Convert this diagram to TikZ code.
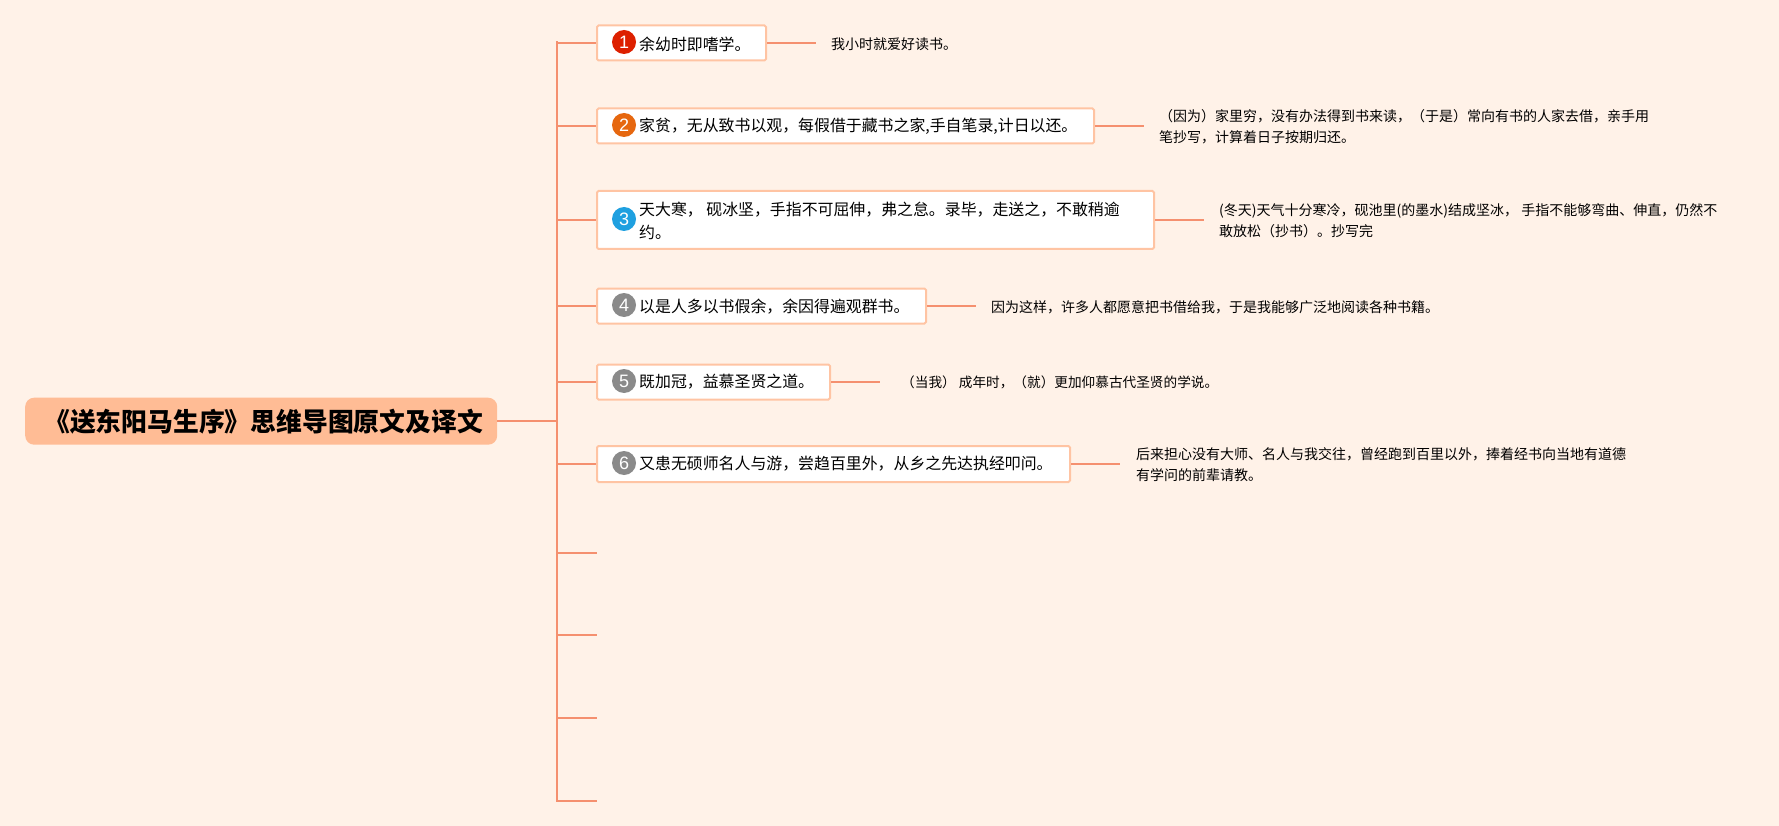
\documentclass[tikz,border=0pt]{standalone}
\usepackage{fontspec}
\setmainfont{Noto Sans CJK SC}
\setsansfont{Liberation Sans}
\definecolor{bgc}{HTML}{FFF2E8}
\definecolor{linec}{HTML}{F5906F}
\definecolor{boxc}{HTML}{FFC4A3}
\definecolor{rootc}{HTML}{FFBC95}
\definecolor{redc}{HTML}{DD2000}
\definecolor{orangec}{HTML}{E6670F}
\definecolor{bluec}{HTML}{1FA0E0}
\definecolor{greyc}{HTML}{8A8A8A}
\tikzset{
  x=1pt,y=-1pt,
  branch/.style={draw=linec,line width=2.4pt},
  rootbox/.style={draw=none,fill=rootc,rounded corners=9pt,inner sep=0pt,anchor=north west},
  itembox/.style={draw=boxc,line width=2pt,fill=white,rounded corners=1.5pt,inner sep=0pt,anchor=north west},
  badge/.style={circle,minimum size=24pt,inner sep=0pt,text=white,font=\sffamily\fontsize{18}{18}\selectfont},
  roottext/.style={anchor=east,inner sep=0pt,font=\bfseries\fontsize{25.8}{30}\selectfont,text=black},
  itemtext/.style={anchor=west,inner sep=0pt,align=left,font=\fontsize{15.9}{23}\selectfont,text=black},
  notetext/.style={anchor=west,inner sep=0pt,align=left,font=\fontsize{14}{20.8}\selectfont,text=black},
}
\begin{document}
\begin{tikzpicture}
\path[use as bounding box,fill=bgc] (0,0) rectangle (1779,826);
% root
\node[rootbox,minimum width=472pt,minimum height=47pt] (root) at (25,397.5) {};
\node[roottext] (roott) at (483,422) {《送东阳马生序》思维导图原文及译文};
% trunk
\coordinate (ttop) at (557,42);
\coordinate (tbot) at (557,801);
% boxes
\node[itembox,minimum width=169pt,minimum height=35pt] (b1) at (596,24.5) {};
\node[itembox,minimum width=497pt,minimum height=35pt] (b2) at (596,107.5) {};
\node[itembox,minimum width=557pt,minimum height=58pt] (b3) at (596,190) {};
\node[itembox,minimum width=329pt,minimum height=35pt] (b4) at (596,287.5) {};
\node[itembox,minimum width=233pt,minimum height=35pt] (b5) at (596,363.5) {};
\node[itembox,minimum width=473pt,minimum height=36pt] (b6) at (596,445) {};
% badges
\node[badge,fill=redc] (c1) at (624,42) {1};
\node[badge,fill=orangec] (c2) at (624,125) {2};
\node[badge,fill=bluec] (c3) at (624,219) {3};
\node[badge,fill=greyc] (c4) at (624,305) {4};
\node[badge,fill=greyc] (c5) at (624,381) {5};
\node[badge,fill=greyc] (c6) at (624,463) {6};
% item texts
\node[itemtext] (t1) at (639,44) {余幼时即嗜学。};
\node[itemtext] (t2) at (639,126) {家贫，无从致书以观，每假借于藏书之家,手自笔录,计日以还。};
\node[itemtext] (t3) at (639,221) {天大寒， 砚冰坚，手指不可屈伸，弗之怠。录毕，走送之，不敢稍逾\\约。};
\node[itemtext] (t4) at (639,307) {以是人多以书假余，余因得遍观群书。};
\node[itemtext] (t5) at (639,382) {既加冠，益慕圣贤之道。};
\node[itemtext] (t6) at (639,463.5) {又患无硕师名人与游，尝趋百里外，从乡之先达执经叩问。};
% note ends
\coordinate (e1) at (816,42);
\coordinate (e2) at (1144,125);
\coordinate (e3) at (1204,219);
\coordinate (e4) at (976,305);
\coordinate (e5) at (880,381);
\coordinate (e6) at (1120,463);
% notes
\node[notetext] (n1) at (831,44) {我小时就爱好读书。};
\node[notetext] (n2) at (1159,127) {（因为）家里穷，没有办法得到书来读，（于是）常向有书的人家去借，亲手用\\笔抄写，计算着日子按期归还。};
\node[notetext] (n3) at (1219,221) {(冬天)天气十分寒冷，砚池里(的墨水)结成坚冰， 手指不能够弯曲、伸直，仍然不\\敢放松（抄书）。抄写完};
\node[notetext] (n4) at (991,307) {因为这样，许多人都愿意把书借给我，于是我能够广泛地阅读各种书籍。};
\node[notetext,font=\fontsize{13.65}{20.8}\selectfont] (n5) at (901,382) {（当我） 成年时，（就）更加仰慕古代圣贤的学说。};
\node[notetext] (n6) at (1136,464.5) {后来担心没有大师、名人与我交往，曾经跑到百里以外，捧着经书向当地有道德\\有学问的前辈请教。};
% empty branches
\coordinate (x7) at (597,553);
\coordinate (x8) at (597,635);
\coordinate (x9) at (597,718);
\coordinate (x10) at (597,801);
% connectors
\draw[branch,line cap=rect] (ttop) -- (tbot);
\draw[branch] (root.east) -- (root.east -| ttop);
\foreach \b in {b1,b2,b3,b4,b5,b6}{
  \draw[branch] (\b.west -| ttop) -- (\b.west);
}
\draw[branch] (b1.east) -- (b1.east -| e1);
\draw[branch] (b2.east) -- (b2.east -| e2);
\draw[branch] (b3.east) -- (b3.east -| e3);
\draw[branch] (b4.east) -- (b4.east -| e4);
\draw[branch] (b5.east) -- (b5.east -| e5);
\draw[branch] (b6.east) -- (b6.east -| e6);
\foreach \x in {x7,x8,x9,x10}{
  \draw[branch] (\x -| ttop) -- (\x);
}
\end{tikzpicture}
\end{document}
